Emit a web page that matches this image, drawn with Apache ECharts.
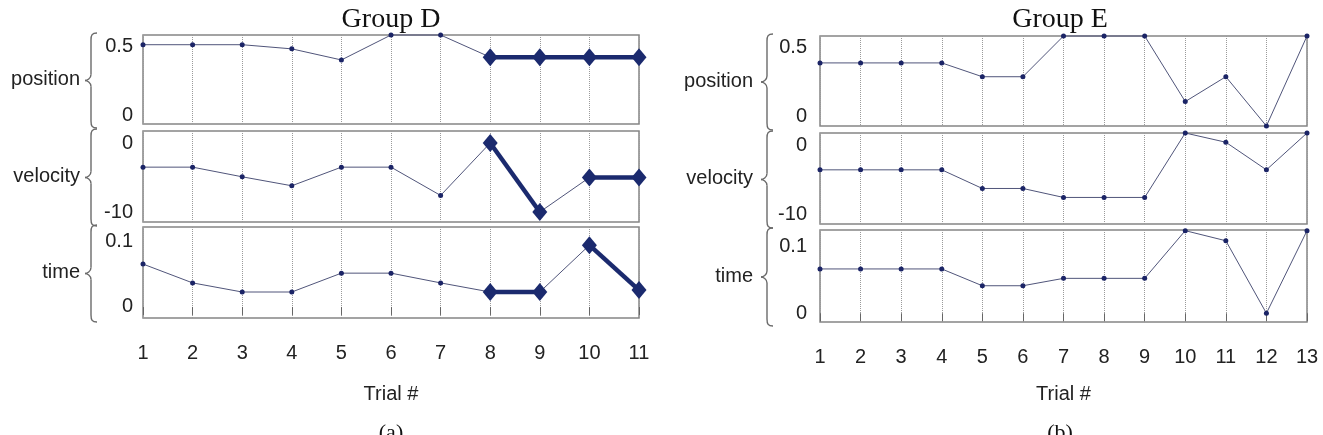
<!DOCTYPE html>
<html><head><meta charset="utf-8">
<script src="https://cdn.jsdelivr.net/npm/echarts@6/dist/echarts.min.js"></script>
<style>html,body{margin:0;padding:0;background:#fff}#c{width:1323px;height:435px}</style>
</head><body><div id="c"></div>
<script>
// ---------- data ----------
const trialsD = [1, 2, 3, 4, 5, 6, 7, 8, 9, 10, 11];
const positionD = [0.51, 0.51, 0.51, 0.48, 0.40, 0.58, 0.58, 0.42, 0.42, 0.42, 0.42];
const velocityD = [-3.5, -3.5, -4.9, -6.2, -3.5, -3.5, -7.6, 0, -10, -5, -5];
const timeD     = [0.066, 0.037, 0.023, 0.023, 0.052, 0.052, 0.037, 0.023, 0.023, 0.095, 0.026];
// highlighted trial ranges (bold segments) for Group D
const highlightPositionD = [[8, 11]];
const highlightVelocityD = [[8, 9], [10, 11]];
const highlightTimeD     = [[8, 9], [10, 11]];

const trialsE = [1, 2, 3, 4, 5, 6, 7, 8, 9, 10, 11, 12, 13];
const positionE = [0.39, 0.39, 0.39, 0.39, 0.29, 0.29, 0.585, 0.585, 0.585, 0.11, 0.29, -0.067, 0.585];
const velocityE = [-3.6, -3.6, -3.6, -3.6, -6.3, -6.3, -7.6, -7.6, -7.6, 1.74, 0.4, -3.6, 1.74];
const timeE     = [0.066, 0.066, 0.066, 0.066, 0.041, 0.041, 0.052, 0.052, 0.052, 0.123, 0.108, 0.0, 0.123];

const rowNames = ['position', 'velocity', 'time'];
const yTicksPosition = [0, 0.5];
const yTicksVelocity = [-10, 0];
const yTicksTime = [0, 0.1];
const titles = ['Group D', 'Group E'];
const captions = ['(a)', '(b)'];
const xName = 'Trial #';

// ---------- layout ----------
const NAVY = '#1b2a6e';
const SANS = '"Liberation Sans", Arial, sans-serif';
const SERIF = '"Liberation Serif", "Times New Roman", serif';
const panels = [
  { trials: trialsD, rows: [positionD, velocityD, timeD],
    highlight: [highlightPositionD, highlightVelocityD, highlightTimeD],
    ranges: [[-0.062, 0.58], [-11.45, 1.74], [-0.017, 0.123]],
    left: 143, width: 496, tops: [35, 131, 227], heights: [89, 91, 91],
    nameGap: 63, labelMargin: 10, braceX: 85, xNameGap: 66, center: 391 },
  { trials: trialsE, rows: [positionE, velocityE, timeE],
    highlight: [[], [], []],
    ranges: [[-0.067, 0.585], [-11.45, 1.74], [-0.013, 0.124]],
    left: 820, width: 487, tops: [36, 133, 230], heights: [90, 91, 92],
    nameGap: 67, labelMargin: 13, braceX: 761, xNameGap: 62, center: 1060 }
];
const yTicks = [yTicksPosition, yTicksVelocity, yTicksTime];

const grids = [], xAxes = [], yAxes = [], series = [], graphics = [];
const braceStyle = { stroke: '#6a6a6a', fill: null, lineWidth: 1.4 };

function braceParts(x0, top, bot) {
  const b = x0 + 6, e = x0 + 12, m = (top + bot) / 2;
  const bz = (x1, y1, cpx1, cpy1, cpx2, cpy2, x2, y2) => ({ type: 'bezierCurve', silent: true,
    shape: { x1, y1, cpx1, cpy1, cpx2, cpy2, x2, y2 }, style: braceStyle });
  const ln = (x1, y1, x2, y2) => ({ type: 'line', silent: true, shape: { x1, y1, x2, y2 }, style: braceStyle });
  return [
    bz(e, top, b + 1, top, b, top + 2, b, top + 7),
    ln(b, top + 7, b, m - 6),
    bz(b, m - 6, b, m - 2, x0 + 2, m, x0, m),
    bz(x0, m, x0 + 2, m, b, m + 2, b, m + 6),
    ln(b, m + 6, b, bot - 7),
    bz(b, bot - 7, b, bot - 2, b + 1, bot, e, bot)
  ];
}

panels.forEach((p, pi) => {
  p.rows.forEach((vals, ri) => {
    const gi = pi * 3 + ri;
    const isBottom = ri === 2;
    grids.push({ left: p.left, top: p.tops[ri], width: p.width, height: p.heights[ri],
      show: true, borderColor: '#858585', borderWidth: 1.5, containLabel: false, outerBoundsMode: 'none' });
    xAxes.push({ gridIndex: gi, type: 'value', position: 'bottom', min: p.trials[0], max: p.trials[p.trials.length - 1], interval: 1,
      axisLine: { show: false },
      axisTick: { show: isBottom, length: 8, inside: false, lineStyle: { color: '#666', width: 1 } },
      axisLabel: { show: isBottom, margin: 25, fontSize: 20, color: '#222', fontFamily: SANS },
      splitLine: { show: true, lineStyle: { type: 'dotted', color: '#9a9a9a', width: 1 } },
      name: isBottom ? xName : '', nameLocation: 'middle', nameGap: p.xNameGap,
      nameTextStyle: { fontSize: 20, color: '#222', fontFamily: SANS } });
    yAxes.push({ gridIndex: gi, type: 'value', min: p.ranges[ri][0], max: p.ranges[ri][1],
      axisLine: { show: false }, axisTick: { show: false }, splitLine: { show: false },
      axisLabel: { customValues: yTicks[ri], margin: p.labelMargin, fontSize: 20, color: '#222', fontFamily: SANS,
        formatter: v => String(v) },
      name: rowNames[ri], nameLocation: 'middle', nameRotate: 0, nameGap: p.nameGap,
      nameTextStyle: { fontSize: 20, color: '#222', fontFamily: SANS } });
    const pts = p.trials.map((t, i) => [t, vals[i]]);
    series.push({ type: 'line', xAxisIndex: gi, yAxisIndex: gi, data: pts, clip: false,
      symbol: 'circle', symbolSize: 5, itemStyle: { color: '#1b2466' },
      lineStyle: { color: '#50557a', width: 1 }, silent: true, z: 2 });
    p.highlight[ri].forEach(([a, b]) => {
      series.push({ type: 'line', xAxisIndex: gi, yAxisIndex: gi, clip: false,
        data: pts.filter(d => d[0] >= a && d[0] <= b),
        symbol: 'diamond', symbolSize: [15, 18], itemStyle: { color: NAVY },
        lineStyle: { color: NAVY, width: 4.5 }, silent: true, z: 3 });
    });
    braceParts(p.braceX, p.tops[ri] - 2, p.tops[ri] + p.heights[ri] + 4).forEach(g => graphics.push(g));
  });
  graphics.push({ type: 'text', x: p.center, y: 20, silent: true,
    style: { text: titles[pi], align: 'center', verticalAlign: 'middle',
      fontSize: 28, fontFamily: SERIF, fill: '#111' } });
  graphics.push({ type: 'text', x: p.center, y: 422, silent: true,
    style: { text: captions[pi], align: 'center', verticalAlign: 'top',
      fontSize: 22, fontFamily: SERIF, fill: '#111' } });
});

const chart = echarts.init(document.getElementById('c'), null, { renderer: 'canvas' });
chart.setOption({
  animation: false,
  backgroundColor: '#fff',
  grid: grids, xAxis: xAxes, yAxis: yAxes, series: series,
  graphic: graphics
});
</script></body></html>
